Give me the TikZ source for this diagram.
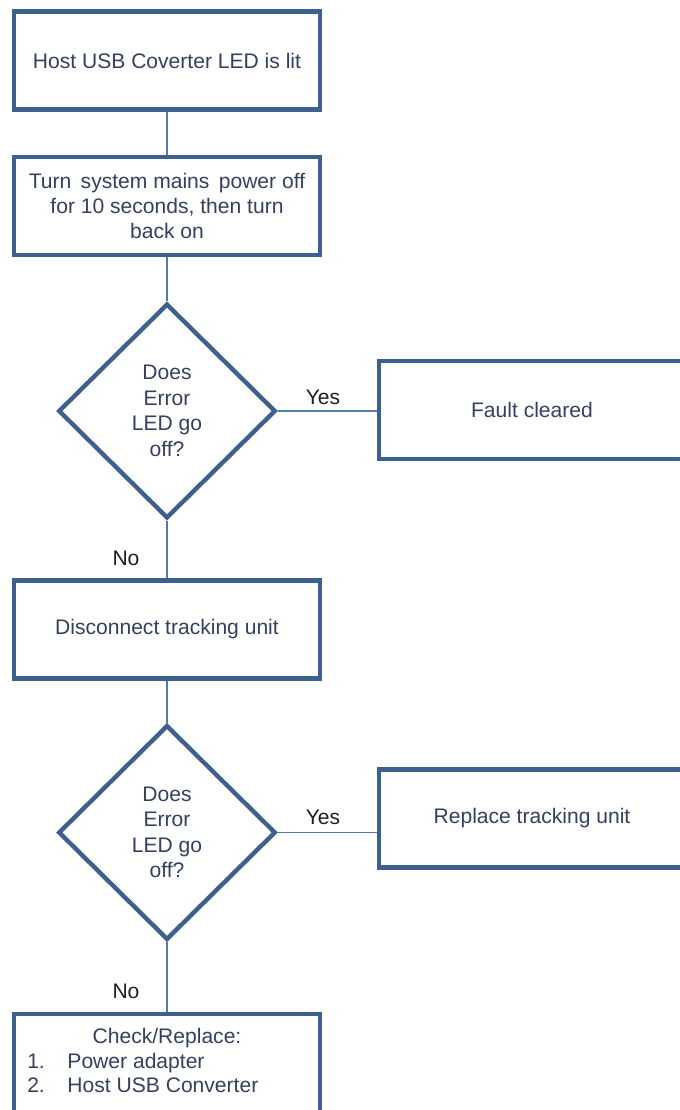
\documentclass[tikz,border=0pt]{standalone}
\usepackage{fontspec}
\setmainfont{Liberation Sans}
\usetikzlibrary{shapes.geometric}
\definecolor{bordercol}{RGB}{62,96,142}
\definecolor{linecol}{RGB}{84,124,170}
\definecolor{textcol}{RGB}{52,64,96}
\definecolor{labelcol}{RGB}{30,30,30}
\begin{document}
\begin{tikzpicture}[x=0.75pt,y=-0.75pt,
  every node/.style={font=\fontsize{15.8}{19.1}\selectfont},
  box/.style={draw=bordercol,line width=3.3pt,rectangle,minimum width=229.5pt,minimum height=73.5pt,inner sep=2pt,align=center,text=textcol,fill=white},
  decision/.style={draw=bordercol,line width=3.3pt,diamond,aspect=1,minimum width=163pt,minimum height=161pt,inner sep=0pt,align=center,text=textcol,fill=white},
  conn/.style={draw=linecol,line width=1.1pt},
  lbl/.style={text=labelcol,inner sep=1pt}]
\useasboundingbox (0,0) rectangle (680,1110);
\clip (0,0) rectangle (680,1110);
\node[box] (b1) at (167,60.5) {Host USB Coverter LED is lit};
\node[box] (b2) at (167,206) {Turn\, system mains\, power off\\for 10 seconds, then turn\\back on};
\node[decision] (d1) at (167,411) {Does\\Error\\LED go\\off?};
\node[box] (b3) at (532,410) {Fault cleared};
\node[box] (b4) at (167,629.5) {Disconnect tracking unit};
\node[decision] (d2) at (167,832.5) {Does\\Error\\LED go\\off?};
\node[box] (b5) at (532,818.5) {Replace tracking unit};
\node[box] (b6) at (167,1063) {};
\node[text=textcol,inner sep=0pt] (h6) at (167,1038) {Check/Replace:};
\node[text=textcol,inner sep=0pt,anchor=west] (l6) at (27,1075.5) {\begin{tabular}{@{}l@{\hspace{17pt}}l@{}}1.&Power adapter\\[-1.5pt]2.&Host USB Converter\end{tabular}};
\draw[conn] (b1.south) -- (b2.north);
\draw[conn] (b2.south) -- (d1.north);
\draw[conn] (d1.east) -- (d1.east -| b3.west);
\draw[conn] (d1.south) -- (b4.north);
\draw[conn] (b4.south) -- (d2.north);
\draw[conn] (d2.east) -- (d2.east -| b5.west);
\draw[conn] (d2.south) -- (b6.north);
\node[lbl] (y1) at (323,397) {Yes};
\node[lbl] (y2) at (323,817) {Yes};
\node[lbl] (n1) at (126,558) {No};
\node[lbl] (n2) at (126,991) {No};
\end{tikzpicture}
\end{document}
